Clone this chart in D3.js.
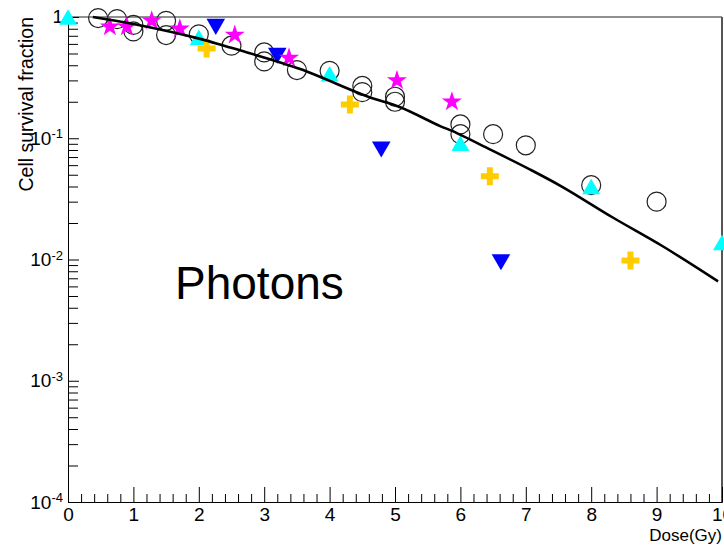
<!DOCTYPE html>
<html>
<head>
<meta charset="utf-8">
<script src="https://cdn.jsdelivr.net/npm/d3@7"></script>
<style>
  body { margin: 0; background: #fff; }
  svg { display: block; font-family: "Liberation Sans", Arial, sans-serif; }
</style>
</head>
<body>
<div id="chart"></div>
<script>
// fitted survival curve
const fitDose = [0.38, 1.0, 2.02, 2.4, 2.74, 3.55, 4.57, 5.08, 5.69, 5.89, 6.45, 7.06, 7.57, 8.33, 9.1, 9.94]
const fitSurv = [1.0, 0.875, 0.66, 0.576, 0.51, 0.372, 0.222, 0.18, 0.126, 0.114, 0.081, 0.0554, 0.0394, 0.0222, 0.0128, 0.0066]

// open circles
const circDose = [0.46, 0.75, 1, 1, 1.5, 1.5, 2, 2.5, 3, 3, 3.5, 4, 4.5, 4.5, 5, 5, 6, 6, 6.5, 7, 8, 9]
const circSurv = [0.98, 0.96, 0.86, 0.76, 0.93, 0.71, 0.72, 0.58, 0.51, 0.43, 0.365, 0.36, 0.27, 0.24, 0.22, 0.2, 0.13, 0.108, 0.108, 0.0875, 0.041, 0.03]

// cyan up triangles
const triUpDose = [0, 2, 4, 6, 8, 10]
const triUpSurv = [1.0, 0.68, 0.34, 0.091, 0.04, 0.0138]

// blue down triangles
const triDownDose = [2.26, 3.2, 4.79, 6.62]
const triDownSurv = [0.83, 0.48, 0.081, 0.0095]

// orange crosses
const crossDose = [2.12, 4.31, 6.45, 8.6]
const crossSurv = [0.55, 0.19, 0.0485, 0.0098]

// magenta stars
const starDose = [0.64, 0.9, 1.28, 1.71, 2.55, 3.38, 5.03, 5.87]
const starSurv = [0.83, 0.83, 0.93, 0.8, 0.71, 0.46, 0.3, 0.2]

const xMajor = [0, 1, 2, 3, 4, 5, 6, 7, 8, 9, 10]
const yMajor = [1e-4, 1e-3, 1e-2, 1e-1, 1]

const width = 724
const height = 547

const svg = d3.select('#chart')
  .append('svg')
  .attr('width', width)
  .attr('height', height)

const x = d3.scaleLinear().domain([0, 10]).range([68, 722])
const y = d3.scaleLog().domain([1e-4, 1]).range([502, 17])

// minor tick values
const xMinor = d3.range(0, 50).map(i => i * 0.2).filter(v => Math.abs(v - Math.round(v)) > 1e-6)
const yMinor = []
for (let e = -4; e < 0; e++) {
  for (let k = 2; k <= 9; k++) yMinor.push(k * Math.pow(10, e))
}

// frame top and right
svg.append('line')
  .attr('x1', x(0)).attr('x2', x(10))
  .attr('y1', y(1)).attr('y2', y(1))
  .attr('stroke', '#222').attr('stroke-width', 1.2)
svg.append('line')
  .attr('x1', x(10)).attr('x2', x(10))
  .attr('y1', y(1)).attr('y2', y(1e-4))
  .attr('stroke', '#555').attr('stroke-width', 2)

// x axis
const xAxisG = svg.append('g')
  .attr('transform', 'translate(0,' + y(1e-4) + ')')
xAxisG.append('g')
  .call(d3.axisBottom(x).tickValues(xMinor).tickSizeInner(-8).tickSizeOuter(0).tickFormat(''))
  .selectAll('text').remove()
xAxisG.append('g')
  .call(d3.axisBottom(x).tickValues(xMajor).tickSizeInner(-15).tickSizeOuter(0).tickPadding(6).tickFormat(d3.format('d')))
xAxisG.selectAll('text')
  .attr('font-size', '19px')
  .attr('font-family', '"Liberation Sans", Arial, sans-serif')
  .attr('fill', '#000')
xAxisG.selectAll('line, path').attr('stroke', '#000')

// y axis
const yAxisG = svg.append('g')
  .attr('transform', 'translate(' + x(0) + ',0)')
yAxisG.append('g')
  .call(d3.axisLeft(y).tickValues(yMinor).tickSizeInner(-10).tickSizeOuter(0).tickFormat(() => ''))
  .selectAll('text').remove()
const yMajorG = yAxisG.append('g')
  .call(d3.axisLeft(y).tickValues(yMajor).tickSizeInner(-11).tickSizeOuter(0).tickPadding(5).tickFormat(() => ''))
yAxisG.selectAll('line, path').attr('stroke', '#000')

yMajorG.selectAll('.tick text')
  .attr('font-size', '19px')
  .attr('font-family', '"Liberation Sans", Arial, sans-serif')
  .attr('fill', '#000')
  .each(function(d) {
    const t = d3.select(this)
    if (d === 1) {
      t.text('1').attr('dy', '0.3em')
    } else {
      t.append('tspan').text('10')
      t.append('tspan')
        .attr('dy', '-0.5em')
        .attr('font-size', '13px')
        .text(Math.round(Math.log10(d)))
    }
  })

// markers
const plot = svg.append('g')

const circPts = circDose.map((d, i) => ({ x: d, y: circSurv[i] }))
plot.selectAll('.circ')
  .data(circPts)
  .enter()
  .append('circle')
  .attr('class', 'circ')
  .attr('cx', d => x(d.x))
  .attr('cy', d => y(d.y))
  .attr('r', 9.5)
  .attr('fill', 'none')
  .attr('stroke', '#222')
  .attr('stroke-width', 1.2)

const triSize = 140
const triShift = Math.sqrt(triSize / (Math.sqrt(3) * 3)) / 2

const upPts = triUpDose.map((d, i) => ({ x: d, y: triUpSurv[i] }))
plot.selectAll('.tri-up')
  .data(upPts)
  .enter()
  .append('path')
  .attr('class', 'tri-up')
  .attr('d', d3.symbol(d3.symbolTriangle, triSize))
  .attr('transform', d => 'translate(' + x(d.x) + ',' + (y(d.y) + triShift) + ')')
  .attr('fill', '#00ffff')

const downPts = triDownDose.map((d, i) => ({ x: d, y: triDownSurv[i] }))
plot.selectAll('.tri-down')
  .data(downPts)
  .enter()
  .append('path')
  .attr('class', 'tri-down')
  .attr('d', d3.symbol(d3.symbolTriangle, 150))
  .attr('transform', d => 'translate(' + x(d.x) + ',' + (y(d.y) - triShift) + ') rotate(180)')
  .attr('fill', '#0000ff')

const crossPts = crossDose.map((d, i) => ({ x: d, y: crossSurv[i] }))
plot.selectAll('.cross')
  .data(crossPts)
  .enter()
  .append('path')
  .attr('class', 'cross')
  .attr('d', d3.symbol(d3.symbolCross, 180))
  .attr('transform', d => 'translate(' + x(d.x) + ',' + y(d.y) + ')')
  .attr('fill', '#ffcc00')

const starPts = starDose.map((d, i) => ({ x: d, y: starSurv[i] }))
plot.selectAll('.star')
  .data(starPts)
  .enter()
  .append('path')
  .attr('class', 'star')
  .attr('d', d3.symbol(d3.symbolStar, 125))
  .attr('transform', d => 'translate(' + x(d.x) + ',' + y(d.y) + ')')
  .attr('fill', '#ff00ff')

// fit line
const fitPts = fitDose.map((d, i) => ({ x: d, y: fitSurv[i] }))
const line = d3.line()
  .x(d => x(d.x))
  .y(d => y(d.y))
  .curve(d3.curveCatmullRom)

svg.append('path')
  .datum(fitPts)
  .attr('d', line)
  .attr('fill', 'none')
  .attr('stroke', '#000')
  .attr('stroke-width', 2.6)

// titles
svg.append('text')
  .attr('transform', 'translate(33,17) rotate(-90)')
  .attr('text-anchor', 'end')
  .attr('font-size', '19.5px')
  .text('Cell survival fraction')

svg.append('text')
  .attr('x', 722)
  .attr('y', 541)
  .attr('text-anchor', 'end')
  .attr('font-size', '17px')
  .text('Dose(Gy)')

svg.append('text')
  .attr('x', 175)
  .attr('y', 299)
  .attr('font-size', '46px')
  .text('Photons')
</script>
</body>
</html>
